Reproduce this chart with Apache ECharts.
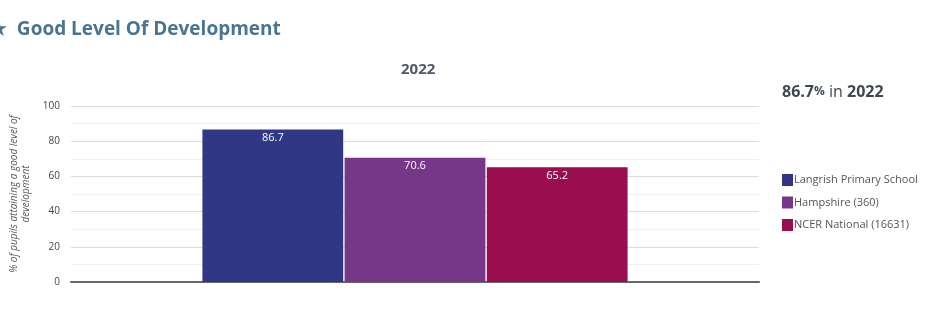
<!DOCTYPE html>
<html>
<head>
<meta charset="utf-8">
<script src="https://cdn.jsdelivr.net/npm/echarts@6/dist/echarts.min.js"></script>
<style>html,body{margin:0;padding:0;background:#fff;}#c{width:940px;height:331px;}</style>
</head>
<body>
<div id="c"></div>
<script>
var categories = ['2022'];
var seriesNames = ['Langrish Primary School', 'Hampshire (360)', 'NCER National (16631)'];
var seriesValues = [[86.7], [70.6], [65.2]];
var seriesColors = ['#303785', '#763789', '#9a0e4f'];
var yTicks = [0, 20, 40, 60, 80, 100];
var chartTitle = '★  Good Level Of Development';
var yAxisName = '% of pupils attaining a good level of\ndevelopment';

var chart = echarts.init(document.getElementById('c'));
var series = seriesNames.map(function (n, i) {
  return {
    name: n, type: 'bar', data: seriesValues[i],
    barGap: '1%', barCategoryGap: '38.2%',
    itemStyle: { color: seriesColors[i] },
    label: { show: true, position: 'insideTop', distance: 3, color: '#fff', fontSize: 11, fontFamily: 'Open Sans' }
  };
});
var fam = 'Open Sans';
chart.setOption({
  animation: false,
  textStyle: { fontFamily: fam },
  title: [
    { text: chartTitle, left: -10, top: 20, padding: 0, textStyle: { fontSize: 19, fontWeight: 'bold', color: '#4a7592', fontFamily: fam } },
    { text: categories[0], left: 401, top: 62, padding: 0, textStyle: { fontSize: 15, fontWeight: 'bold', color: '#4b5a68', fontFamily: fam } }
  ],
  graphic: [{
    type: 'text', left: 782, top: 84,
    style: {
      rich: {
        b: { fontSize: 16, fontWeight: 'bold', fill: '#3f4954', fontFamily: fam },
        p: { fontSize: 12, fontWeight: 'bold', fill: '#3f4954', fontFamily: fam },
        n: { fontSize: 16, fill: '#3f4954', fontFamily: fam }
      },
      text: '{b|' + seriesValues[0][0] + '}{p|%}{n| in }{b|' + categories[0] + '}'
    }
  }],
  legend: {
    orient: 'vertical', left: 782, top: 174, padding: 0, itemWidth: 11, itemHeight: 12, itemGap: 10.5,
    icon: 'rect', data: seriesNames,
    textStyle: { fontSize: 11, color: '#555', fontFamily: fam, padding: [0, 0, 0, -4] }
  },
  grid: { left: 71, right: 181, top: 106, bottom: 49, containLabel: false, outerBoundsMode: 'none' },
  xAxis: {
    type: 'category', data: categories,
    axisLabel: { show: false }, axisTick: { show: false },
    axisLine: { show: true, lineStyle: { color: '#666', width: 2 } }
  },
  yAxis: {
    type: 'value', min: yTicks[0], max: yTicks[yTicks.length - 1], interval: 20,
    name: yAxisName, nameLocation: 'middle', nameRotate: 90, nameGap: 39,
    nameTextStyle: { fontStyle: 'italic', fontSize: 10, color: '#555', lineHeight: 12, fontFamily: fam },
    axisLabel: { fontSize: 10, color: '#444', margin: 11, fontFamily: fam },
    axisLine: { show: false }, axisTick: { show: false },
    splitLine: { lineStyle: { color: '#dcdcdc', width: 1 } },
    minorTick: { show: false, splitNumber: 2 },
    minorSplitLine: { show: true, lineStyle: { color: '#f0f0f0', width: 1 } }
  },
  series: series
});
</script>
</body>
</html>
